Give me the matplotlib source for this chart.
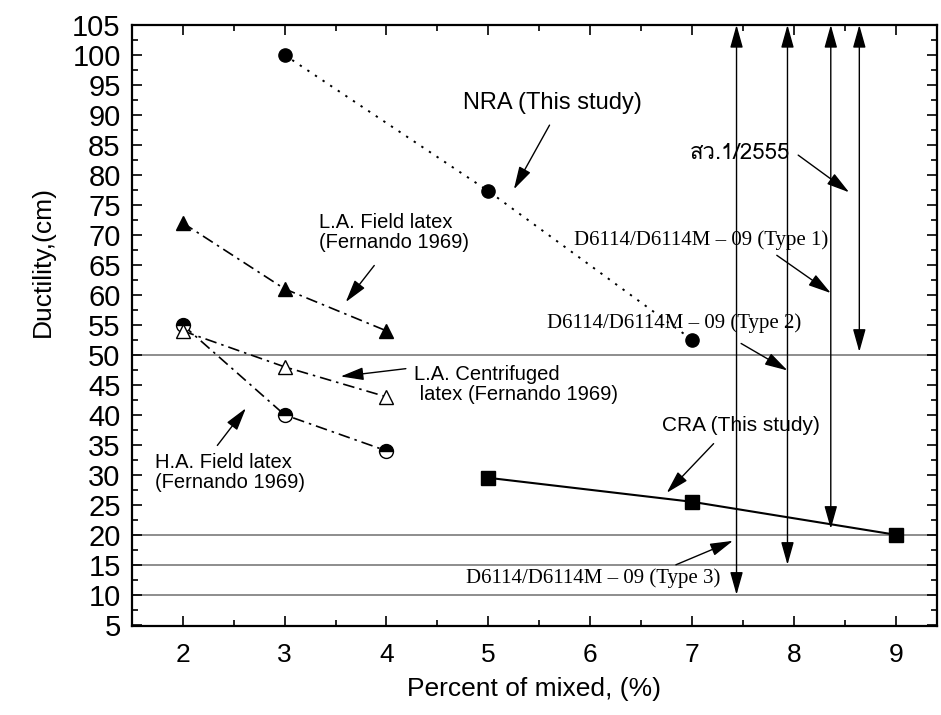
import matplotlib
matplotlib.use('Agg')
import matplotlib.pyplot as plt
import numpy as np
from matplotlib import font_manager
from matplotlib.ft2font import FT2Font
from matplotlib.ticker import MultipleLocator

# data
nra_x = [3, 5, 7]
nra_y = [100, 77.3, 52.5]
la_field_x = [2, 3, 4]
la_field_y = [72, 61, 54]
la_centri_x = [2, 3, 4]
la_centri_y = [54, 48, 43]
ha_field_x = [2, 3, 4]
ha_field_y = [55, 40, 34]
cra_x = [5, 7, 9]
cra_y = [29.5, 25.5, 20]

# specification limits (horizontal lines and vertical ranges)
spec_lines = [50, 20, 15, 10]
spec_x = [7.435, 7.935, 8.36, 8.64]
spec_low = [10, 15, 21, 50.5]
spec_high = [105, 105, 105, 105]

x_ticks = [2, 3, 4, 5, 6, 7, 8, 9]
y_ticks = list(range(5, 106, 5))


def find_thai_font():
    for f in font_manager.fontManager.ttflist:
        try:
            if ord('ส') in FT2Font(f.fname).get_charmap():
                return f.name
        except Exception:
            pass
    return 'DejaVu Sans'


thai_font = find_thai_font()
sans = ['Liberation Sans', 'DejaVu Sans']
serif = ['Liberation Serif', 'DejaVu Serif']

fig = plt.figure(figsize=(9.41, 7.15), dpi=100)
ax = fig.add_axes([0.14, 0.1245, 0.8555, 0.8406])

for v in spec_lines:
    ax.axhline(v, color='#7a7a7a', lw=1.2, zorder=1)

dashdot = (0, (7, 3, 1.5, 3))
ax.plot(nra_x, nra_y, color='black', ls=(0, (1.2, 3.5)), lw=1.4,
        marker='o', ms=9.5, mfc='black', mec='black', zorder=3)
ax.plot(la_field_x, la_field_y, color='black', ls=dashdot, lw=1.2,
        marker='^', ms=10.5, mfc='black', mec='black', zorder=3)
ax.plot(ha_field_x, ha_field_y, color='black', ls=dashdot, lw=1.2,
        marker='o', ms=10, fillstyle='top', mfc='black', mfcalt='white',
        mec='black', mew=1.0, zorder=3)
ax.plot(la_centri_x, la_centri_y, color='black', ls=dashdot, lw=1.2,
        marker='^', ms=10.5, mfc='white', mec='black', mew=1.0, zorder=4)
ax.plot(cra_x, cra_y, color='black', ls='-', lw=1.5,
        marker='s', ms=10.5, mfc='black', mec='black', zorder=3)

# vertical double arrows for specification ranges
for xv, lo, hi in zip(spec_x, spec_low, spec_high):
    ax.annotate('', xy=(xv, hi), xytext=(xv, lo),
                arrowprops=dict(arrowstyle='<|-|>,head_length=1.0,head_width=0.28',
                                color='black', lw=1.0, mutation_scale=14,
                                shrinkA=0, shrinkB=0), zorder=5)

arrow = dict(arrowstyle='-|>,head_length=1.0,head_width=0.28', color='black',
             lw=1.0, mutation_scale=14, shrinkA=0, shrinkB=0)

ax.text(5.63, 92.0, 'NRA (This study)', family=sans, fontsize=17,
        ha='center', va='center')
ax.annotate('', xy=(5.25, 77.6), xytext=(5.60, 88.3), arrowprops=arrow)

ax.text(3.335, 70.4, 'L.A. Field latex\n(Fernando 1969)', family=sans,
        fontsize=14.5, ha='left', va='center', linespacing=1.05)
ax.annotate('', xy=(3.60, 58.8), xytext=(3.88, 64.9), arrowprops=arrow)

ax.text(4.27, 45.1, 'L.A. Centrifuged\n latex (Fernando 1969)', family=sans,
        fontsize=14.5, ha='left', va='center', linespacing=1.05)
ax.annotate('', xy=(3.55, 46.4), xytext=(4.19, 47.7), arrowprops=arrow)

ax.text(1.73, 30.4, 'H.A. Field latex\n(Fernando 1969)', family=sans,
        fontsize=14.5, ha='left', va='center', linespacing=1.05)
ax.annotate('', xy=(2.62, 41.1), xytext=(2.34, 34.9), arrowprops=arrow)

ax.text(7.48, 38.2, 'CRA (This study)', family=sans, fontsize=15,
        ha='center', va='center')
ax.annotate('', xy=(6.75, 27.0), xytext=(7.21, 35.2), arrowprops=arrow)

ax.text(6.98, 83.6, 'สว.1/2555', family=[thai_font, 'DejaVu Sans'],
        fontsize=16, ha='left', va='center')
ax.annotate('', xy=(8.54, 77.1), xytext=(8.04, 83.3), arrowprops=arrow)

ax.text(7.09, 69.1, 'D6114/D6114M \u2013 09 (Type 1)', family=serif,
        fontsize=15, ha='center', va='center')
ax.annotate('', xy=(8.36, 60.3), xytext=(7.83, 66.6), arrowprops=arrow)

ax.text(6.82, 55.25, 'D6114/D6114M \u2013 09 (Type 2)', family=serif,
        fontsize=15, ha='center', va='center')
ax.annotate('', xy=(7.935, 47.4), xytext=(7.48, 51.9), arrowprops=arrow)

ax.text(6.03, 12.7, 'D6114/D6114M \u2013 09 (Type 3)', family=serif,
        fontsize=15, ha='center', va='center')
ax.annotate('', xy=(7.40, 19.0), xytext=(6.84, 15.0), arrowprops=arrow)

ax.set_xlim(1.5, 9.4)
ax.set_ylim(4.8, 105)
ax.set_xticks(x_ticks)
ax.set_yticks(y_ticks)
ax.xaxis.set_minor_locator(MultipleLocator(0.5))
ax.yaxis.set_minor_locator(MultipleLocator(2.5))
ax.tick_params(which='both', direction='in', top=True, right=True, width=1.2)
ax.tick_params(which='major', length=7)
ax.tick_params(which='minor', length=4)
ax.tick_params(axis='x', which='major', pad=12)
ax.tick_params(axis='y', which='major', pad=8)
for lab in ax.get_xticklabels():
    lab.set_family(sans)
    lab.set_fontsize(19)
for lab in ax.get_yticklabels():
    lab.set_family(sans)
    lab.set_fontsize(21)
for sp in ax.spines.values():
    sp.set_linewidth(1.6)

ax.set_xlabel('Percent of mixed, (%)', family=sans, fontsize=19)
ax.xaxis.set_label_coords(0.5, -0.085)
ax.set_ylabel('Ductility,(cm)', family=sans, fontsize=19)
ax.yaxis.set_label_coords(-0.095, 0.606)

fig.savefig('out.png', dpi=100)
